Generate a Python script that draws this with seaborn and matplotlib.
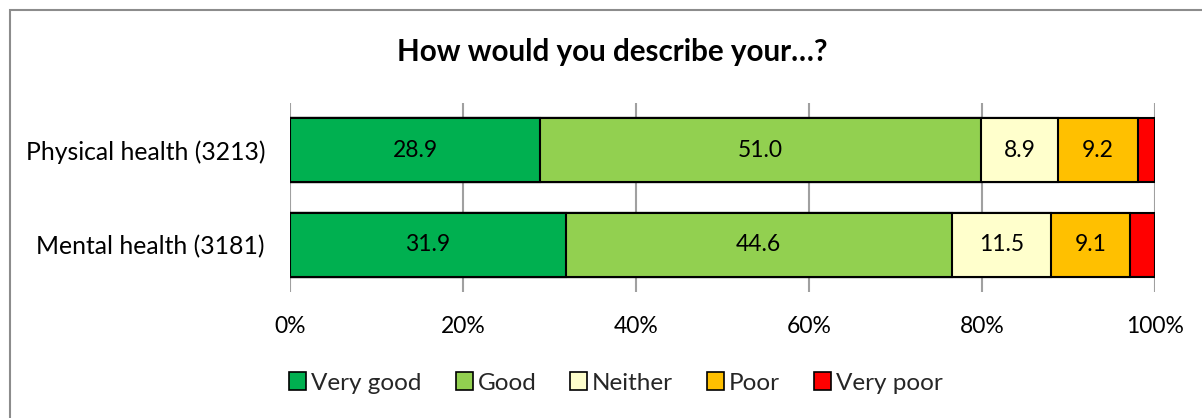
import matplotlib
matplotlib.use("Agg")
import matplotlib.pyplot as plt
import matplotlib.patches as mpatches
import seaborn as sns
import pandas as pd
import numpy as np

# ---- data ----
categories = ["Physical health (3213)", "Mental health (3181)"]
responses = ["Very good", "Good", "Neither", "Poor", "Very poor"]
very_good = [28.9, 31.9]
good = [51.0, 44.6]
neither = [8.9, 11.5]
poor = [9.2, 9.1]
very_poor = [2.0, 2.9]
colors = ["#00B050", "#92D050", "#FFFFCC", "#FFC000", "#FF0000"]
x_ticks = [0, 20, 40, 60, 80, 100]
x_tick_labels = ["0%", "20%", "40%", "60%", "80%", "100%"]
title = "How would you describe your\u2026?"

sns.set_theme(style="white")
plt.rcParams["font.family"] = ["Lato", "DejaVu Sans"]

series = [very_good, good, neither, poor, very_poor]
values = np.array(series)  # shape (5, 2)
cum = np.cumsum(values, axis=0)

fig = plt.figure(figsize=(12.02, 4.18), dpi=100)
ax = fig.add_axes([290 / 1202, 1 - 292 / 418, 865 / 1202, 189 / 418])

# draw cumulative bars from back (largest) to front
for i in range(len(responses) - 1, -1, -1):
    df = pd.DataFrame({"cat": categories, "val": cum[i]})
    sns.barplot(data=df, y="cat", x="val", orient="h", color=colors[i],
                width=0.674, edgecolor="black", linewidth=1.5,
                saturation=1, ax=ax, zorder=3)

# value labels
for i, resp in enumerate(responses):
    if resp == "Very poor":
        continue
    for j in range(len(categories)):
        start = cum[i][j] - values[i][j]
        ax.text(start + values[i][j] / 2, j, f"{values[i][j]:.1f}",
                ha="center", va="center", fontsize=16.5, color="black", zorder=5)

ax.set_xlim(0, 100)
ax.set_ylim(1.5, -0.5)
ax.set_xticks(x_ticks)
ax.set_xticklabels(x_tick_labels, fontsize=16.5)
ax.tick_params(axis="x", length=0, pad=17)
ax.tick_params(axis="y", length=0, pad=18, labelsize=17.8)
ax.set_xlabel("")
ax.set_ylabel("")
ax.xaxis.grid(True, color="#a0a0a0", linewidth=1.5, zorder=0)
ax.set_axisbelow(True)
for s in ax.spines.values():
    s.set_visible(False)
for lab in ax.get_yticklabels():
    lab.set_color("black")
for lab in ax.get_xticklabels():
    lab.set_color("black")

fig.text(612 / 1202, 1 - 52 / 418, title, ha="center", va="center",
         fontsize=21.3, fontweight="bold", color="black")

handles = [mpatches.Patch(facecolor=c, edgecolor="black", linewidth=1.2, label=r)
           for c, r in zip(colors, responses)]
fig.legend(handles=handles, loc="center", bbox_to_anchor=(616 / 1202, 1 - 383 / 418),
           ncol=5, frameon=False, fontsize=17.5, handlelength=0.7, handleheight=0.7,
           handletextpad=0.2, columnspacing=1.4)

# outer chart border
border = mpatches.Rectangle((10 / 1202, -0.1), 1.2, 1 - 10 / 418 + 0.1,
                            transform=fig.transFigure, fill=False,
                            edgecolor="#8c8c8c", linewidth=1.5)
fig.patches.append(border)

fig.savefig("out.png", dpi=100)
